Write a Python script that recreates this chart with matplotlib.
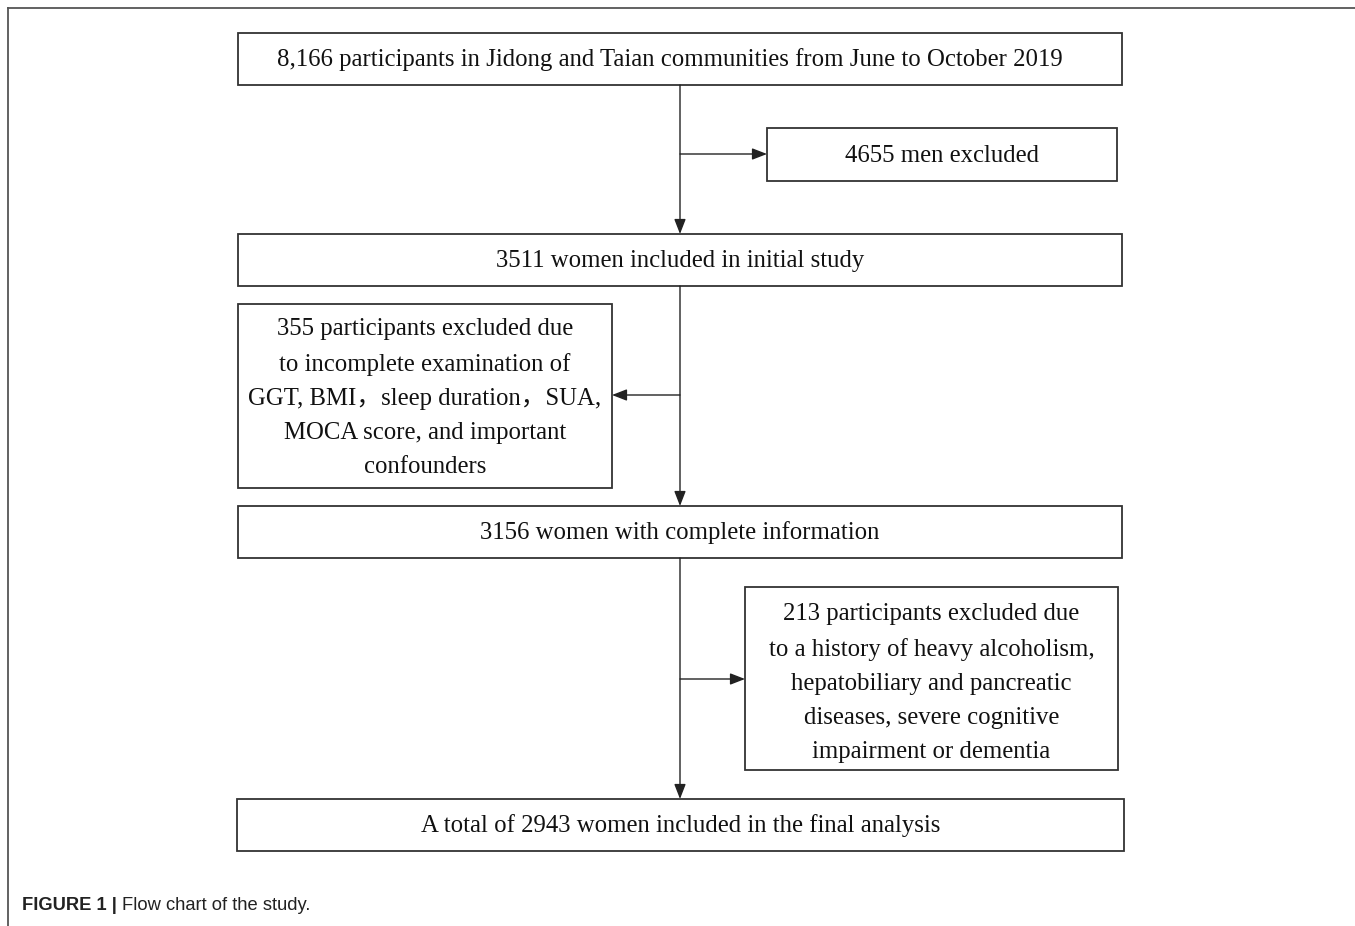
import matplotlib.pyplot as plt
from matplotlib.patches import Rectangle

# box texts of the flow chart
main_steps = [
    "8,166 participants in Jidong and Taian communities from June to October 2019",
    "3511 women included in initial study",
    "3156 women with complete information",
    "A total of 2943 women included in the final analysis",
]
excluded = [
    "4655 men excluded",
    "355 participants excluded due\nto incomplete examination of\nGGT, BMI\uff0csleep duration\uff0cSUA,\nMOCA score, and important\nconfounders",
    "213 participants excluded due\nto a history of heavy alcoholism,\nhepatobiliary and pancreatic\ndiseases, severe cognitive\nimpairment or dementia",
]
caption_bold = "FIGURE 1 |"
caption_text = "Flow chart of the study."

# layout (pixels): x0, y0, x1, y1
main_boxes = [(238, 33, 1122, 85), (238, 234, 1122, 286),
              (238, 506, 1122, 558), (237, 799, 1124, 851)]
side_boxes = [(767, 128, 1117, 181), (238, 304, 612, 488), (745, 587, 1118, 770)]
branch_y = [154, 395, 679]
spine_x = 680

W, H = 1355, 926
fig = plt.figure(figsize=(W / 100, H / 100), dpi=100)
ax = fig.add_axes([0, 0, 1, 1])
ax.set_xlim(0, W)
ax.set_ylim(H, 0)
ax.axis("off")

serif = ["Liberation Serif", "Noto Sans CJK SC", "DejaVu Serif"]
edge = "#333333"

# outer frame (top and left only)
ax.plot([8, W], [8, 8], color="#555555", lw=1.3)
ax.plot([8, 8], [8, H], color="#555555", lw=1.3)


def box(b, txt, ls=1.2, dy=1, dx=0):
    x0, y0, x1, y1 = b
    ax.add_patch(Rectangle((x0, y0), x1 - x0, y1 - y0, fill=False,
                           edgecolor=edge, lw=1.3))
    ax.text((x0 + x1) / 2 + dx, (y0 + y1) / 2 + dy, txt, ha="center",
            va="center", fontsize=17.8, family=serif, color="#111111",
            linespacing=ls)


box(main_boxes[0], main_steps[0], dx=-10)
for b, t in zip(main_boxes[1:], main_steps[1:]):
    box(b, t)
box(side_boxes[0], excluded[0])
box(side_boxes[1], excluded[1], ls=1.72, dy=2)
box(side_boxes[2], excluded[2], ls=1.72, dy=4.5)

arrow = dict(arrowstyle="-|>,head_length=0.9,head_width=0.35", color="#222222",
             lw=1.0, shrinkA=0, shrinkB=0)

# vertical arrows between main boxes
for i in range(3):
    ax.annotate("", xy=(spine_x, main_boxes[i + 1][1]),
                xytext=(spine_x, main_boxes[i][3]), arrowprops=arrow)

# side branches
for b, y in zip(side_boxes, branch_y):
    target = b[2] if b[0] < spine_x else b[0]
    ax.annotate("", xy=(target, y), xytext=(spine_x, y), arrowprops=arrow)

# caption
sans = ["Liberation Sans", "DejaVu Sans"]
ax.text(22, 905, caption_bold, ha="left", va="center", fontsize=13.2,
        family=sans, fontweight="bold", color="#222222")
ax.text(122, 905, caption_text, ha="left", va="center", fontsize=13.2,
        family=sans, color="#222222")

fig.savefig("out.png", dpi=100)
